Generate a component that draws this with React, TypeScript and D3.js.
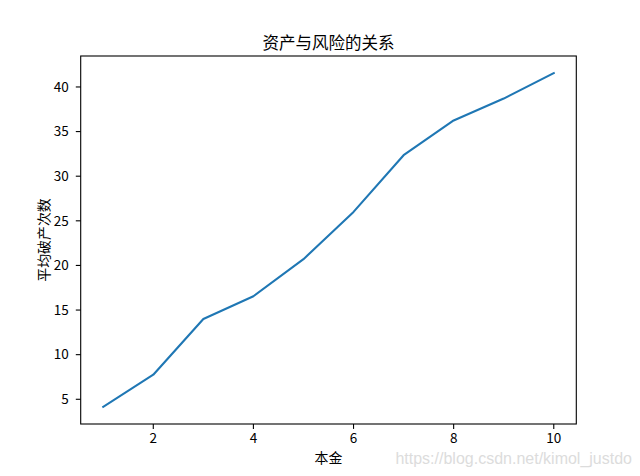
import React from "react";
import { scaleLinear, line } from "d3";

// 本金 vs 平均破产次数
const principal: number[] = [1, 2, 3, 4, 5, 6, 7, 8, 9, 10];
const avgBankrupt: number[] = [4.15, 7.75, 14.0, 16.55, 20.7, 26.0, 32.35, 36.25, 38.7, 41.55];
const xTicks: number[] = [2, 4, 6, 8, 10];
const yTicks: number[] = [5, 10, 15, 20, 25, 30, 35, 40];

const W = 640;
const H = 476;
const left = 80.7;
const right = 576.3;
const top = 56;
const bottom = 424;

const font = "'Noto Sans CJK SC', 'DejaVu Sans', sans-serif";

const App: React.FC = () => {
  const xScale = scaleLinear().domain([0.55, 10.45]).range([left, right]);
  const yScale = scaleLinear().domain([2.23, 43.47]).range([bottom, top]);

  const path = line<number>()
    .x((_, i) => xScale(principal[i]))
    .y((d) => yScale(d))(avgBankrupt);

  return (
    <svg
      width={W}
      height={H}
      style={{ position: "absolute", left: 0, top: 0, background: "#fff" }}
      fontFamily={font}
    >
      <rect x={0} y={0} width={W} height={H} fill="#fff" />

      {/* 标题 */}
      <text x={(left + right) / 2} y={49} textAnchor="middle" fontSize={16.5} fill="#000">
        资产与风险的关系
      </text>

      {/* 折线 */}
      <path d={path ?? ""} fill="none" stroke="#1f77b4" strokeWidth={2.08} strokeLinejoin="round" strokeLinecap="square" />

      {/* 坐标框 */}
      <rect x={left} y={top} width={right - left} height={bottom - top} fill="none" stroke="#000" strokeWidth={1.1} />

      {/* X 轴 */}
      {xTicks.map((t) => (
        <g key={t} transform={`translate(${xScale(t)},${bottom})`}>
          <line y1={0} y2={4.9} stroke="#000" strokeWidth={1.1} />
          <text y={19} textAnchor="middle" fontSize={13.5} fill="#000">
            {t}
          </text>
        </g>
      ))}

      {/* Y 轴 */}
      {yTicks.map((t) => (
        <g key={t} transform={`translate(${left},${yScale(t)})`}>
          <line x1={0} x2={-4.9} stroke="#000" strokeWidth={1.1} />
          <text x={-12} dy="0.35em" textAnchor="end" fontSize={13.5} fill="#000">
            {t}
          </text>
        </g>
      ))}

      {/* 轴标签 */}
      <text x={(left + right) / 2} y={463} textAnchor="middle" fontSize={13.9} fill="#000">
        本金
      </text>
      <text
        transform={`translate(49,${(top + bottom) / 2}) rotate(-90)`}
        textAnchor="middle"
        fontSize={13.9}
        fill="#000"
      >
        平均破产次数
      </text>

      {/* 水印 */}
      <text x={632} y={464} textAnchor="end" fontSize={16} fontFamily="'Liberation Sans', Arial, sans-serif" fill="#dcdcdc">
        https://blog.csdn.net/kimol_justdo
      </text>
    </svg>
  );
};

export default App;
